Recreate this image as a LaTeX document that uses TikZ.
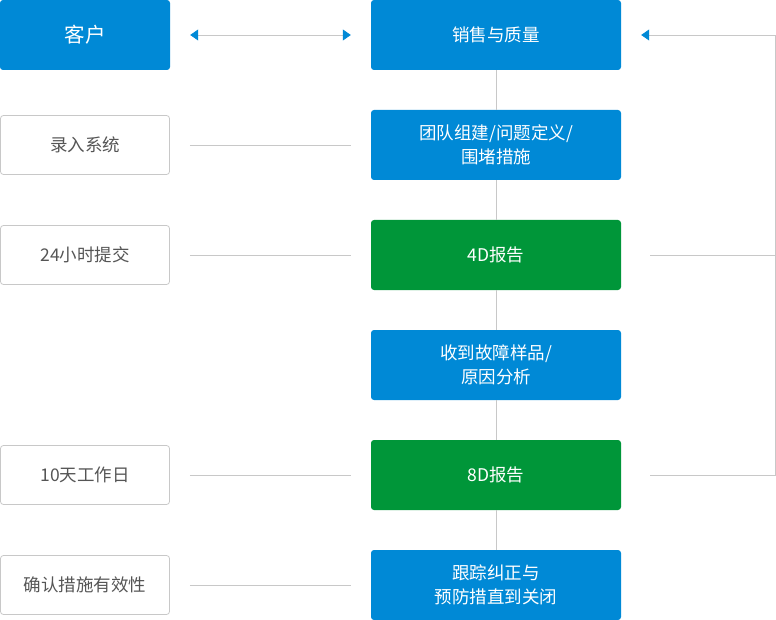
\documentclass[tikz,border=0pt]{standalone}
\usepackage{fontspec}
\setmainfont{Noto Sans CJK SC}
\usetikzlibrary{arrows.meta}
\definecolor{boxblue}{HTML}{0089D6}
\definecolor{boxgreen}{HTML}{009639}
\definecolor{linegray}{HTML}{C8C8C8}
\definecolor{textgray}{HTML}{555555}
\begin{document}
\begin{tikzpicture}[x=1pt,y=-1pt,font=\fontsize{17.5}{24}\selectfont,
    >={Triangle[length=8,width=11,color=boxblue]}]
    \tikzstyle{blue box}=[fill=boxblue,text=white,rounded corners=3,minimum width=250,minimum height=70,align=center,inner sep=0]
    \tikzstyle{green box}=[blue box,fill=boxgreen]
    \tikzstyle{side box}=[draw=linegray,line width=0.8,text=textgray,rounded corners=3,minimum width=169,minimum height=59,inner sep=0]
    \tikzstyle{link}=[draw=linegray,line width=0.8]
    \useasboundingbox (0,0) rectangle (776,620);

    % center column
    \node(sales)[blue box] at (496,35){销售与质量};
    \node(team)[blue box] at (496,145){团队组建/问题定义/\\围堵措施};
    \node(d4)[green box] at (496,255){4D报告};
    \node(sample)[blue box] at (496,365){收到故障样品/\\原因分析};
    \node(d8)[green box] at (496,475){8D报告};
    \node(track)[blue box] at (496,585){跟踪纠正与\\预防措直到关闭};

    % left column
    \node(customer)[blue box,minimum width=170,font=\fontsize{20.5}{24}\selectfont] at (85,35){客户};
    \node(entry)[side box] at (85,145){录入系统};
    \node(hours)[side box] at (85,255){24小时提交};
    \node(days)[side box] at (85,475){10天工作日};
    \node(verify)[side box] at (85,585){确认措施有效性};

    \foreach \a/\b in {sales/team,team/d4,d4/sample,sample/d8,d8/track}
        \draw[link] (\a.south) -- (\b.north);

    \draw[link,<->] ([xshift=20]customer.east) -- ([xshift=-20]sales.west);
    \foreach \n in {entry,hours,days,verify}
        \draw[link] ([xshift=20]\n.east) -- ([xshift=181]\n.east);

    % feedback loop
    \coordinate(top) at (775,35);
    \coordinate(bottom) at (775,475);
    \draw[link,<-] ([xshift=20]sales.east) -- (top) -- (bottom) -- ([xshift=29]d8.east);
    \draw[link] ([xshift=29]d4.east) -- (d4.east -| top);
\end{tikzpicture}
\end{document}
